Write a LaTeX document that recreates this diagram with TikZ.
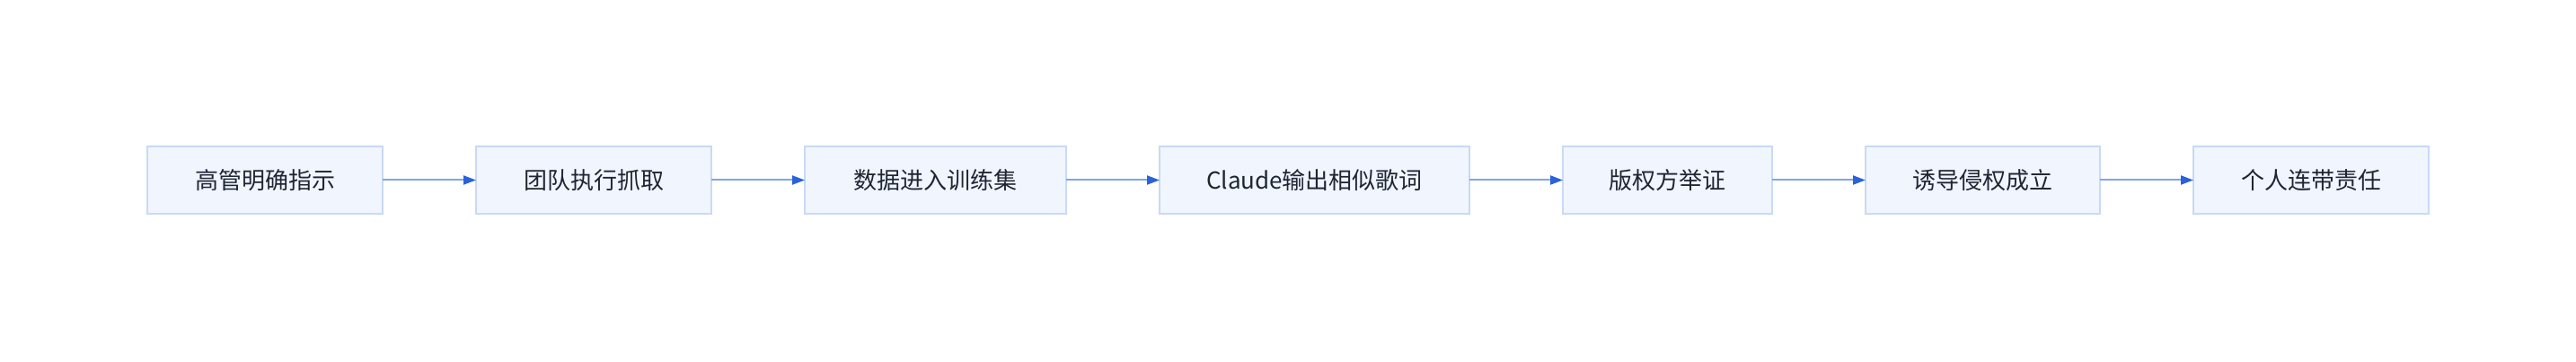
\documentclass[tikz,border=0pt]{standalone}
\usepackage{fontspec}
\setmainfont{Noto Sans CJK SC}
\usepackage{xcolor}
\usepackage{tikz}
\usetikzlibrary{
    positioning,
    arrows.meta
}
\definecolor{stagefill}{HTML}{F0F5FE}
\definecolor{stageline}{HTML}{C8DAF5}
\definecolor{flowline}{HTML}{7EA5EF}
\definecolor{flowhead}{HTML}{2A62DA}
\definecolor{stagetext}{HTML}{1F2533}
\tikzset{stage/.style={
    draw=stageline,
    fill=stagefill,
    line width=0.75pt,
    minimum height=37.5pt,
    inner sep=0pt,
    outer sep=0pt,
    text=stagetext,
    font=\fontsize{13pt}{15pt}\selectfont,
}}
\tikzset{flow/.style={
    -{Triangle[length=7pt,width=5pt,color=flowhead]},
    draw=flowline,
    line width=1pt,
}}
\begin{document}
\begin{tikzpicture}[
                align=center,
                node distance=52pt
        ]
            \useasboundingbox (0,0) rectangle (1434pt,201pt);
            \node[stage, minimum width=131pt, anchor=west] (order) at (82pt,100.75pt) {高管明确指示};
            \node[stage, minimum width=131pt, right=of order] (scrape) {团队执行抓取};
            \node[stage, minimum width=145.5pt, right=of scrape] (train) {数据进入训练集};
            \node[stage, minimum width=172.5pt, right=of train] (output) {Claude输出相似歌词};
            \node[stage, minimum width=116.5pt, right=of output] (proof) {版权方举证};
            \node[stage, minimum width=130.5pt, right=of proof] (induce) {诱导侵权成立};
            \node[stage, minimum width=131pt, right=of induce] (liable) {个人连带责任};

            \draw[flow] (order) -- (scrape);
            \draw[flow] (scrape) -- (train);
            \draw[flow] (train) -- (output);
            \draw[flow] (output) -- (proof);
            \draw[flow] (proof) -- (induce);
            \draw[flow] (induce) -- (liable);

        \end{tikzpicture}
\end{document}
